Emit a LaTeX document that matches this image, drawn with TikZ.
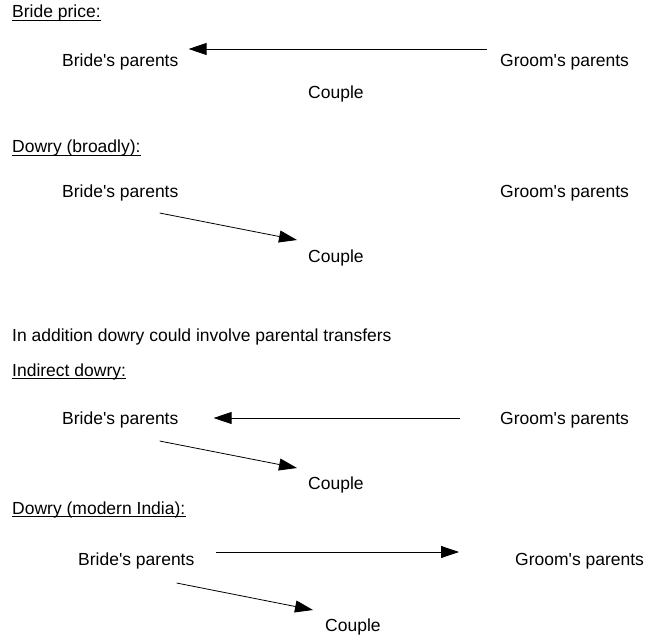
\documentclass[tikz,border=0pt]{standalone}
\usepackage{fontspec}
\setmainfont{Liberation Sans}
\usetikzlibrary{arrows.meta}
\tikzset{
  lbl/.style={anchor=base west,inner sep=0pt,font=\fontsize{17.5}{21}\selectfont},
  flow/.style={-{Triangle[length=18pt,width=12pt]},line width=0.8pt},
  uline/.style={line width=0.8pt}
}
\begin{document}
\begin{tikzpicture}[x=1pt,y=-1pt]
\useasboundingbox (0,0) rectangle (645,636);
% Bride price
\node[lbl] (t1) at (12,18) {Bride price:};
\draw[uline] ([yshift=-2pt]t1.base west)--([yshift=-2pt]t1.base east);
\node[lbl] (bp1) at (62,67) {Bride\textquotesingle s parents};
\node[lbl] (gp1) at (500,67) {Groom\textquotesingle s parents};
\node[lbl] (cp1) at (308,99) {Couple};
\draw[flow] ([shift={(-13,-18)}]gp1.base west)--([shift={(10,-18)}]bp1.base east);
% Dowry (broadly)
\node[lbl] (t2) at (12,153) {Dowry (broadly):};
\draw[uline] ([yshift=-2pt]t2.base west)--([yshift=-2pt]t2.base east);
\node[lbl] (bp2) at (62,198) {Bride\textquotesingle s parents};
\node[lbl] (gp2) at (500,198) {Groom\textquotesingle s parents};
\node[lbl] (cp2) at (308,263) {Couple};
\draw[flow] ([shift={(-19,15)}]bp2.base east)--([shift={(-11,-23)}]cp2.base west);
\node[lbl] (t3) at (12,341) {In addition dowry could involve parental transfers};
% Indirect dowry
\node[lbl] (t4) at (12,376) {Indirect dowry:};
\draw[uline] ([yshift=-2pt]t4.base west)--([yshift=-2pt]t4.base east);
\node[lbl] (bp3) at (62,424) {Bride\textquotesingle s parents};
\node[lbl] (gp3) at (500,424) {Groom\textquotesingle s parents};
\node[lbl] (cp3) at (308,489) {Couple};
\draw[flow] ([shift={(-40,-6)}]gp3.base west)--([shift={(35,-6)}]bp3.base east);
\draw[flow] ([shift={(-19,17)}]bp3.base east)--([shift={(-11,-21)}]cp3.base west);
% Dowry (modern India)
\node[lbl] (t5) at (12,514) {Dowry (modern India):};
\draw[uline] ([yshift=-2pt]t5.base west)--([yshift=-2pt]t5.base east);
\node[lbl] (bp4) at (78,565) {Bride\textquotesingle s parents};
\node[lbl] (gp4) at (515,565) {Groom\textquotesingle s parents};
\node[lbl] (cp4) at (325,631) {Couple};
\draw[flow] ([shift={(21,-13)}]bp4.base east)--([shift={(-56,-13)}]gp4.base west);
\draw[flow] ([shift={(-18,18)}]bp4.base east)--([shift={(-12,-21)}]cp4.base west);
\end{tikzpicture}
\end{document}
